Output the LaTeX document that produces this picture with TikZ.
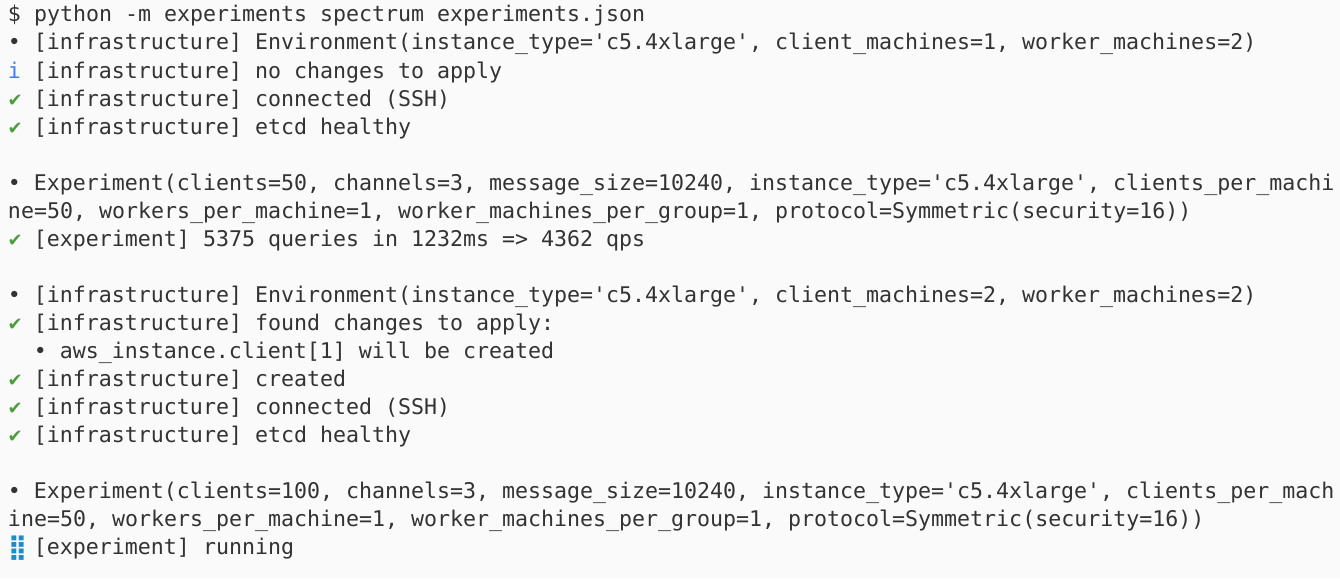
\documentclass[tikz,border=0pt]{standalone}
\usepackage{fontspec}
\setmonofont{DejaVu Sans Mono}
\newfontfamily\symfont{DejaVu Sans}
\definecolor{termbg}{HTML}{FAFAFA}
\definecolor{termfg}{HTML}{333333}
\definecolor{okgreen}{HTML}{4A9C3C}
\definecolor{infoblue}{HTML}{3D7EF0}
\definecolor{spinblue}{HTML}{1E8CCB}
\newcommand{\cw}{12.98}
\begin{document}
\begin{tikzpicture}[x=1pt, y=-1pt,
   every node/.style={anchor=base west, inner sep=0pt, outer sep=0pt},
   termline/.style={font=\ttfamily\fontsize{21.6}{28}\selectfont, text=termfg},
   bullet/.style={termline},
   info/.style={termline, text=infoblue},
   ok/.style={font=\symfont\bfseries\fontsize{18}{28}\selectfont, text=okgreen, xshift=-.5pt},
   spin/.style={font=\symfont\bfseries\fontsize{25}{28}\selectfont, text=spinblue, yshift=-1pt}]

\fill[termbg] (0,0) rectangle (1340,578);
\useasboundingbox (0,0) rectangle (1340,578);

% first block
\node[termline] (cmd) at (8,22) {\$ python -m experiments spectrum experiments.json};
\node[bullet] (i2) at (8,50) {•};
\node[termline] (t2) at (8+2*\cw,50) {[infrastructure] Environment(instance\_type='c5.4xlarge', client\_machines=1, worker\_machines=2)};
\node[info] (i3) at (8,78) {i};
\node[termline] (t3) at (8+2*\cw,78) {[infrastructure] no changes to apply};
\node[ok] (i4) at (8,106) {✔};
\node[termline] (t4) at (8+2*\cw,106) {[infrastructure] connected (SSH)};
\node[ok] (i5) at (8,134) {✔};
\node[termline] (t5) at (8+2*\cw,134) {[infrastructure] etcd healthy};

% first experiment
\node[bullet] (i7) at (8,190) {•};
\node[termline] (t7) at (8+2*\cw,190) {Experiment(clients=50, channels=3, message\_size=10240, instance\_type='c5.4xlarge', clients\_per\_machi};
\node[termline] (t8) at (8,218) {ne=50, workers\_per\_machine=1, worker\_machines\_per\_group=1, protocol=Symmetric(security=16))};
\node[ok] (i9) at (8,246) {✔};
\node[termline] (t9) at (8+2*\cw,246) {[experiment] 5375 queries in 1232ms => 4362 qps};

% second block
\node[bullet] (i11) at (8,302) {•};
\node[termline] (t11) at (8+2*\cw,302) {[infrastructure] Environment(instance\_type='c5.4xlarge', client\_machines=2, worker\_machines=2)};
\node[ok] (i12) at (8,330) {✔};
\node[termline] (t12) at (8+2*\cw,330) {[infrastructure] found changes to apply:};
\node[bullet] (i13) at (8+2*\cw,358) {•};
\node[termline] (t13) at (8+4*\cw,358) {aws\_instance.client[1] will be created};
\node[ok] (i14) at (8,386) {✔};
\node[termline] (t14) at (8+2*\cw,386) {[infrastructure] created};
\node[ok] (i15) at (8,414) {✔};
\node[termline] (t15) at (8+2*\cw,414) {[infrastructure] connected (SSH)};
\node[ok] (i16) at (8,442) {✔};
\node[termline] (t16) at (8+2*\cw,442) {[infrastructure] etcd healthy};

% second experiment
\node[bullet] (i18) at (8,498) {•};
\node[termline] (t18) at (8+2*\cw,498) {Experiment(clients=100, channels=3, message\_size=10240, instance\_type='c5.4xlarge', clients\_per\_mach};
\node[termline] (t19) at (8,526) {ine=50, workers\_per\_machine=1, worker\_machines\_per\_group=1, protocol=Symmetric(security=16))};
\node[spin] (i20) at (8,554) {⣿};
\node[termline] (t20) at (8+2*\cw,554) {[experiment] running};

\end{tikzpicture}
\end{document}
